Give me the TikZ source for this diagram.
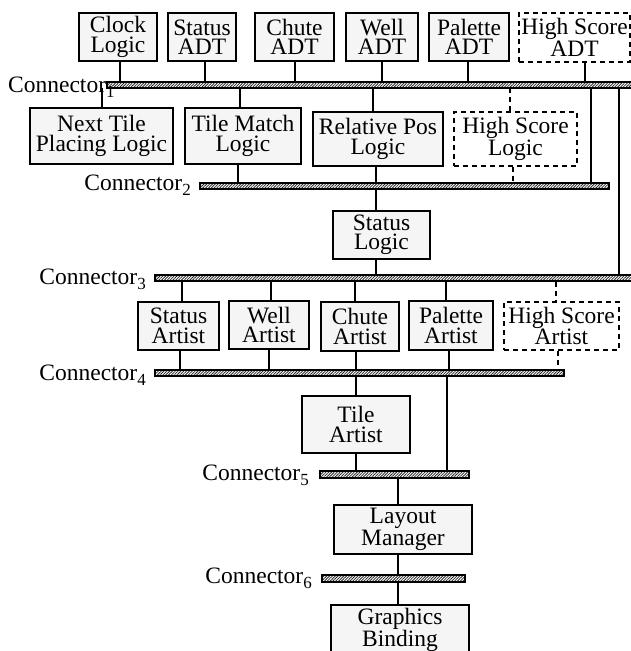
\documentclass[tikz,border=0pt]{standalone}
\usepackage{fontspec}
\setmainfont{Liberation Serif}
\usetikzlibrary{patterns.meta}
\newcommand\csub[1]{\raisebox{-5pt}{\fontsize{17}{17}\selectfont #1}}
\begin{document}
\begin{tikzpicture}[x=1pt,y=-1pt,
  every node/.style={font=\fontsize{23.5}{19.5}\selectfont},
  box/.style={draw, line width=1.8pt, fill=black!4, inner sep=0pt, align=center},
  dbox/.style={draw, line width=1.5pt, dash pattern=on 5pt off 4pt, fill=white, inner sep=0pt, align=center},
  bar/.style={draw, line width=1.6pt, inner sep=0pt, pattern={Lines[angle=45,distance=2pt,line width=0.8pt]}, pattern color=black!85},
  link/.style={line width=1.8pt},
  dlink/.style={line width=1.5pt, dash pattern=on 5pt off 4pt},
  lbl/.style={anchor=base east, inner sep=0pt}]
\clip (0,0) rectangle (631,651);
% top row
\node[box, minimum width=78pt, minimum height=48pt] (clock) at (118,37) {Clock\\Logic};
\node[box, minimum width=68pt, minimum height=48pt] (statusadt) at (202,37) {Status\\ADT};
\node[box, minimum width=79pt, minimum height=48pt] (chuteadt) at (294.5,37) {Chute\\ADT};
\node[box, minimum width=72pt, minimum height=48pt] (welladt) at (382,37) {Well\\ADT};
\node[box, minimum width=80pt, minimum height=48pt] (paletteadt) at (469,37) {Palette\\ADT};
\node[dbox, minimum width=111pt, minimum height=49pt] (hsadt) at (574.5,37.5) {High Score\\ADT};
% bar 1
\node[bar, minimum width=526pt, minimum height=6pt] (bar1) at (370,85) {};
\node[anchor=base west, inner sep=0pt] (lbl1) at (8,92) {Connector\csub{1}};
% second row
\node[box, minimum width=143pt, minimum height=56pt] (nexttile) at (101.5,136) {Next Tile\\Placing Logic};
\node[box, minimum width=116pt, minimum height=56pt] (tilematch) at (243,136) {Tile Match\\Logic};
\node[box, minimum width=130pt, minimum height=54pt] (relpos) at (378,139) {Relative Pos\\Logic};
\node[dbox, minimum width=123pt, minimum height=54pt] (hslogic) at (515.5,139) {High Score\\Logic};
% bar 2
\node[bar, minimum width=409pt, minimum height=6pt] (bar2) at (404.5,186) {};
\node[lbl] (lbl2) at (191,190) {Connector\csub{2}};
% status logic
\node[box, minimum width=97pt, minimum height=48pt] (statuslogic) at (381.5,235) {Status\\Logic};
% bar 3
\node[bar, minimum width=480pt, minimum height=6pt] (bar3) at (395,278) {};
\node[lbl] (lbl3) at (146,284) {Connector\csub{3}};
% third row
\node[box, minimum width=81pt, minimum height=48pt] (statusartist) at (178.5,326) {Status\\Artist};
\node[box, minimum width=80pt, minimum height=48pt] (wellartist) at (269,325) {Well\\Artist};
\node[box, minimum width=78pt, minimum height=49pt] (chuteartist) at (360,326.5) {Chute\\Artist};
\node[box, minimum width=84pt, minimum height=49pt] (paletteartist) at (451,325.5) {Palette\\Artist};
\node[dbox, minimum width=115pt, minimum height=48pt] (hsartist) at (561.5,326) {High Score\\Artist};
% bar 4
\node[bar, minimum width=409pt, minimum height=6pt] (bar4) at (359.5,373) {};
\node[lbl] (lbl4) at (146,380) {Connector\csub{4}};
% tile artist
\node[box, minimum width=108pt, minimum height=57pt] (tileartist) at (356,424.5) {Tile\\Artist};
% bar 5
\node[bar, minimum width=149pt, minimum height=7pt] (bar5) at (394.5,474.5) {};
\node[lbl] (lbl5) at (309,480) {Connector\csub{5}};
% layout manager
\node[box, minimum width=138pt, minimum height=49pt] (layout) at (403,529.5) {Layout\\Manager};
% bar 6
\node[bar, minimum width=143pt, minimum height=7pt] (bar6) at (393.5,578.5) {};
\node[lbl] (lbl6) at (312,583) {Connector\csub{6}};
% graphics binding
\node[box, minimum width=138pt, minimum height=50pt] (graphics) at (400,630) {Graphics\\Binding};
% links top row -> bar1
\draw[link] (clock.south -| 120,0) -- (bar1.north -| 120,0);
\draw[link] (statusadt.south -| 205,0) -- (bar1.north -| 205,0);
\draw[link] (chuteadt.south -| 295,0) -- (bar1.north -| 295,0);
\draw[link] (welladt.south -| 382,0) -- (bar1.north -| 382,0);
\draw[link] (paletteadt.south -| 468,0) -- (bar1.north -| 468,0);
\draw[link] (hsadt.south -| 585,0) -- (bar1.north -| 585,0);
% bar1 -> second row
\draw[link] (bar1.south -| 102,0) -- (nexttile.north -| 102,0);
\draw[link] (bar1.south -| 240,0) -- (tilematch.north -| 240,0);
\draw[link] (bar1.south -| 373,0) -- (relpos.north -| 373,0);
\draw[dlink] (bar1.south -| 510,0) -- (hslogic.north -| 510,0);
\draw[link] (bar1.south -| 591,0) -- (bar2.north -| 591,0);
\draw[link] (bar1.south -| 619,0) -- (bar3.north -| 619,0);
% second row -> bar2
\draw[link] (tilematch.south -| 238,0) -- (bar2.north -| 238,0);
\draw[link] (relpos.south -| 376,0) -- (bar2.north -| 376,0);
\draw[dlink] (hslogic.south -| 513,0) -- (bar2.north -| 513,0);
% bar2 -> status logic -> bar3
\draw[link] (bar2.south -| 376,0) -- (statuslogic.north -| 376,0);
\draw[link] (statuslogic.south -| 376,0) -- (bar3.north -| 376,0);
% bar3 -> third row
\draw[link] (bar3.south -| 182,0) -- (statusartist.north -| 182,0);
\draw[link] (bar3.south -| 271,0) -- (wellartist.north -| 271,0);
\draw[link] (bar3.south -| 355,0) -- (chuteartist.north -| 355,0);
\draw[link] (bar3.south -| 446,0) -- (paletteartist.north -| 446,0);
\draw[dlink] (bar3.south -| 556,0) -- (hsartist.north -| 556,0);
% third row -> bar4
\draw[link] (statusartist.south -| 180,0) -- (bar4.north -| 180,0);
\draw[link] (wellartist.south -| 269,0) -- (bar4.north -| 269,0);
\draw[link] (chuteartist.south -| 356,0) -- (bar4.north -| 356,0);
\draw[link] (paletteartist.south -| 449,0) -- (bar4.north -| 449,0);
\draw[dlink] (hsartist.south -| 558,0) -- (bar4.north -| 558,0);
% bar4 -> tile artist, bar5
\draw[link] (bar4.south -| 356,0) -- (tileartist.north -| 356,0);
\draw[link] (bar4.south -| 447,0) -- (bar5.north -| 447,0);
\draw[link] (tileartist.south -| 356,0) -- (bar5.north -| 356,0);
% bar5 -> layout -> bar6 -> graphics
\draw[link] (bar5.south -| 398,0) -- (layout.north -| 398,0);
\draw[link] (layout.south -| 398,0) -- (bar6.north -| 398,0);
\draw[link] (bar6.south -| 398,0) -- (graphics.north -| 398,0);
\end{tikzpicture}
\end{document}
